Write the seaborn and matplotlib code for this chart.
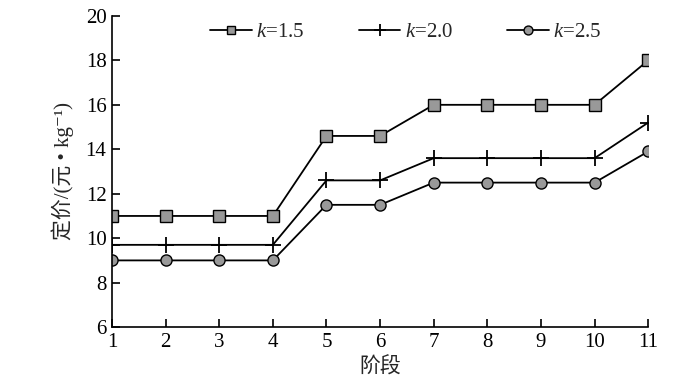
import numpy as np
import pandas as pd
import matplotlib
matplotlib.use("Agg")
import matplotlib.pyplot as plt
import seaborn as sns

stages = [1, 2, 3, 4, 5, 6, 7, 8, 9, 10, 11]
k15 = [11.0, 11.0, 11.0, 11.0, 14.6, 14.6, 16.0, 16.0, 16.0, 16.0, 18.0]
k20 = [9.7, 9.7, 9.7, 9.7, 12.6, 12.6, 13.6, 13.6, 13.6, 13.6, 15.2]
k25 = [9.0, 9.0, 9.0, 9.0, 11.5, 11.5, 12.5, 12.5, 12.5, 12.5, 13.9]
legend_labels = [r"$\mathit{k}$=1.5", r"$\mathit{k}$=2.0", r"$\mathit{k}$=2.5"]

sns.set_theme(style="ticks")
plt.rcParams["font.family"] = ["Liberation Serif", "DejaVu Serif", "Noto Sans CJK SC"]
plt.rcParams["mathtext.fontset"] = "custom"
plt.rcParams["mathtext.rm"] = "Liberation Serif"
plt.rcParams["mathtext.it"] = "Liberation Serif:italic"

fig = plt.figure(figsize=(7, 3.88), dpi=100)
ax = fig.add_axes([0.16, 0.157, 0.766, 0.802])

specs = [
    (k15, legend_labels[0], dict(marker="s", markersize=8, markerfacecolor="#999999",
                                 markeredgecolor="black", markeredgewidth=1.0)),
    (k20, legend_labels[1], dict(marker="+", markersize=11, markeredgecolor="black",
                                 markeredgewidth=1.3)),
    (k25, legend_labels[2], dict(marker="o", markersize=8, markerfacecolor="#999999",
                                 markeredgecolor="black", markeredgewidth=1.0)),
]
for vals, lab, mk in specs:
    sns.lineplot(x=stages, y=vals, color="black", linewidth=1.3, label=lab, ax=ax, **mk)

ax.set_xlim(1, 11)
ax.set_ylim(6, 20)
ax.set_xticks(stages)
ax.set_yticks([6, 8, 10, 12, 14, 16, 18, 20])
ax.tick_params(direction="in", length=6, width=1.2, labelsize=15, colors="black", pad=4)
for sp in ["top", "right"]:
    ax.spines[sp].set_visible(False)
for sp in ["left", "bottom"]:
    ax.spines[sp].set_linewidth(1.2)
    ax.spines[sp].set_color("black")

ax.set_xlabel("阶段", fontsize=15, labelpad=4)
ax.set_ylabel("定价/(元 • kg⁻¹)", fontsize=15, labelpad=8)

leg = ax.legend(loc="upper center", bbox_to_anchor=(0.548, 1.04),
                ncol=3, frameon=False, fontsize=15, handlelength=2.0, columnspacing=2.6,
                handletextpad=0.2, markerscale=0.8)

fig.savefig("out.png", dpi=100)
